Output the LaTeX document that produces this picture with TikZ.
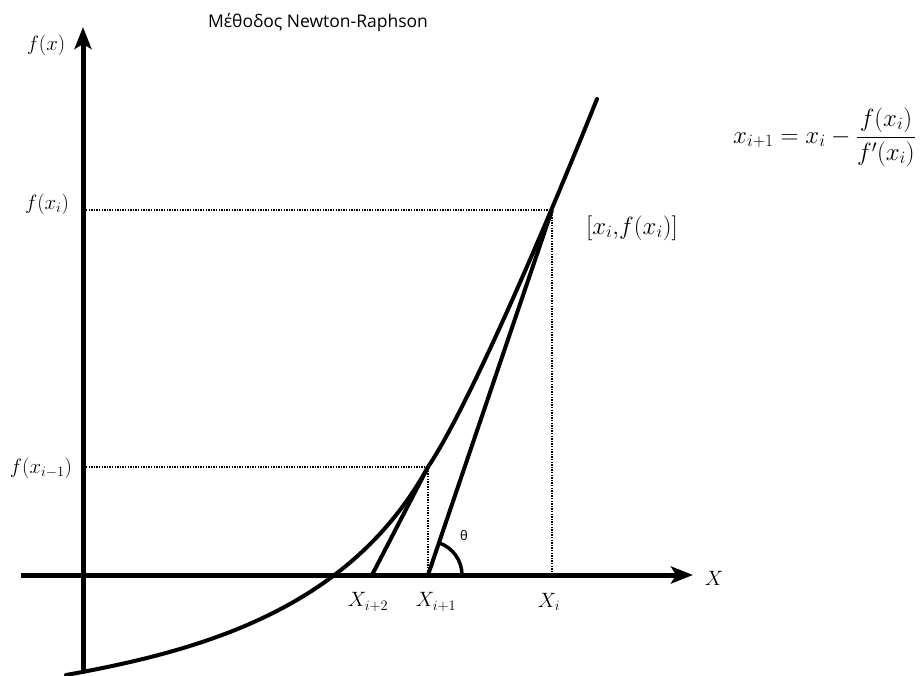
\documentclass[tikz,border=0pt]{standalone}
\usepackage{fontspec}
\newfontfamily\titlefont{Open Sans}
\usetikzlibrary{arrows.meta,calc}
\begin{document}
\begin{tikzpicture}[x=1pt,y=-1pt,
  axisline/.style={line width=5pt,-{Stealth[length=22pt,width=17pt,inset=5pt]}},
  curveline/.style={line width=4pt,line cap=round},
  tangentline/.style={line width=4pt},
  guide/.style={line width=1.4pt,dash pattern=on 1.3pt off 1.3pt},
  lab/.style={font=\fontsize{22}{26}\selectfont,inner sep=0pt},
  biglab/.style={font=\fontsize{25.5}{30}\selectfont,inner sep=0pt},
  ttl/.style={font=\titlefont\fontsize{17.5}{21}\selectfont,inner sep=0pt}]
\useasboundingbox (0,0) rectangle (924,675);
\fill[white] (0,0) rectangle (924,675);
% key points
\coordinate (ytop) at (83,27);
\coordinate (ybot) at (83,670);
\coordinate (xl) at (21,575);
\coordinate (xr) at (693,575);
\coordinate (Pi) at (552,210);
\coordinate (Pim) at (428,467);
\coordinate (Xi) at (552,575);
\coordinate (Xi1) at (428,575);
\coordinate (Xi2) at (372,575);
\coordinate (Fi) at (86,210);
\coordinate (Fim) at (86,467);
\coordinate (Cs) at (66,675);
\coordinate (Ce) at (597,99);
% dotted guides
\draw[guide] (Fi) -- (Pi) -- (Xi);
\draw[guide] (Fim) -- (Pim) -- (Xi1);
% axes
\draw[axisline] (ybot) -- (ytop);
\draw[axisline] (xl) -- (xr);
% curve
\draw[curveline] (Cs) .. controls (205,650) and (350,608) .. (Pim)
  .. controls (472,401) and (552,211) .. (Ce);
% tangents
\draw[tangentline] (Xi1) -- (Pi);
\draw[tangentline] (Xi2) -- (Pim);
% angle
\draw[line width=3.5pt] ($(Xi1)+(34,0)$) arc[start angle=0,end angle=-71.2,radius=34];
% labels
\node[ttl] (title) at (318,23) {Μέθοδος Newton-Raphson};
\node[lab] (lfx) at (46,45) {$f(x)$};
\node[lab] (lfi) at (47,204) {$f(x_i)$};
\node[lab] (lfim) at (41,468) {$f(x_{i-1})$};
\node[lab] (lX) at (714,578) {$X$};
\node[lab] (lX2) at (368,602) {$X_{i+2}$};
\node[lab] (lX1) at (436,602) {$X_{i+1}$};
\node[lab] (lX0) at (549,602) {$X_i$};
\node[font=\titlefont\fontsize{13}{15}\selectfont,inner sep=0pt] (th) at (464,536) {θ};
\node[font=\fontsize{25}{30}\selectfont,inner sep=0pt] (lP) at (632,228) {$[x_i{,}f(x_i)]$};
\node[biglab,anchor=base west] (form) at (733,143) {$\displaystyle x_{i+1}=x_i-\frac{f(x_i)}{f'(x_i)}$};
\end{tikzpicture}
\end{document}
